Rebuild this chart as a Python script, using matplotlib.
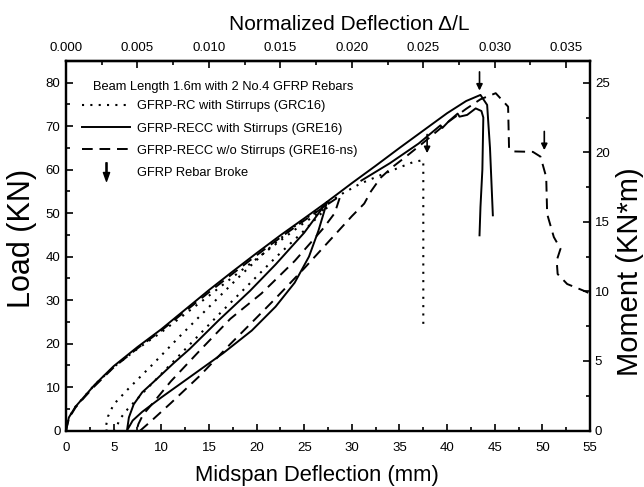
import matplotlib
matplotlib.use('Agg')
import matplotlib.pyplot as plt
from matplotlib.path import Path
from matplotlib.lines import Line2D
from matplotlib.ticker import MultipleLocator, FixedLocator

plt.rcParams['font.family'] = ['Liberation Sans', 'DejaVu Sans']

SPAN_MM = 1500.0      # clear span used for delta/L
MOMENT_ARM = 0.3125   # kN -> kN*m

# ── GRE16 (solid): envelope, unload/reload loop, envelope to failure ──────
gre_x = [0, 0.3, 1, 2, 3, 5, 7.5, 10, 12.5, 15, 17.5, 20, 22.5, 25, 27.4,
         26.5, 25.5, 24, 22, 19.5, 16.5, 13, 10, 8, 7, 6.4,
         6.6, 7.1, 8, 9.5, 11.3, 13, 16, 19.3, 22, 25, 27.4,
         30, 32.5, 35, 37.5, 40, 42, 43.5, 44.2, 44.5, 44.8]
gre_y = [0, 3, 5.5, 8, 10.5, 14.8, 19.2, 23.3, 27.8, 32.3, 36.6, 40.8, 44.9, 48.8, 52.6,
         46, 40, 34, 28.5, 23, 17.8, 12.3, 7.6, 4.3, 2.3, 0,
         3, 6, 8.8, 11.8, 15.5, 18.8, 25.3, 32.1, 38.2, 45.5, 52.6,
         56.9, 60.9, 65, 69, 73, 75.8, 77.2, 74.9, 65, 49.5]

# second solid trace near the peak
gre2_x = [31, 34, 37, 39.3, 39.5, 40.2, 41.1, 41.3, 42.1, 43.0, 43.6, 43.8, 43.7, 43.5, 43.4]
gre2_y = [57.5, 61.5, 66, 70.2, 69.6, 71.2, 72.9, 72.2, 72.6, 74.1, 73.5, 72, 60, 51.4, 44.9]

# ── GRE16-ns (dashed) ──────────────────────────────────────────────────────
ns_x = [0, 0.3, 1, 2, 3, 5, 7.5, 10, 12.5, 15, 17.5, 20, 22.5, 25, 27.5, 28.8,
        28.2, 27, 24, 20.5, 17.25, 14, 11, 9, 8.1, 7.6, 7.4,
        7.8, 9, 11, 14, 17.25, 19.3, 22, 25, 28, 30, 31.3, 32, 33, 34.2, 35.5,
        37.5, 40, 42, 43.5, 45.1, 46.4, 46.5, 47, 49, 49.8, 50.4, 50.5, 51.2,
        51.9, 51.5, 51.6, 52.6, 54.4, 55]
ns_y = [0, 2.8, 5.3, 7.8, 10.2, 14.5, 18.9, 23, 27.4, 31.8, 36.1, 40.3, 44.4, 48.3, 52.1, 54,
        50, 46.5, 39, 31.5, 25.7, 18.3, 11.3, 6, 3.7, 1.5, 0,
        0, 2.3, 6.3, 12.5, 19.9, 24.4, 30.4, 37.3, 44.5, 49.3, 52.2, 55, 58.1, 60.5, 62.7,
        66.2, 70.8, 74, 76.2, 77.6, 74.5, 64.9, 64.2, 64.1, 63, 58.3, 49.8, 44.5,
        41.8, 39.1, 36, 33.7, 32.1, 31.5]

# ── GRC16 (dotted) ─────────────────────────────────────────────────────────
grc_x = [0, 0.3, 1, 2, 3, 5, 7.5, 10, 12.5, 15, 17.5, 20, 22.5, 25, 27.5,
         25, 22, 19, 16, 13, 10, 8, 6.5, 5.6, 5.2, 4.1,
         4.4, 5, 6.5, 9, 12, 15, 18, 21, 24, 27.5,
         29, 30.9, 33.4, 35.1, 36.5, 37.5, 37.5]
grc_y = [0, 3, 5.5, 8, 10.5, 14.6, 18.8, 22.6, 26.8, 31, 35.3, 39.5, 43.7, 47.8, 51.5,
         46, 39.8, 33.2, 26.6, 19.8, 13, 8.5, 5, 2.5, 0, 0,
         3.2, 6, 9.5, 15, 21.8, 28.4, 35, 41.3, 47, 52.3,
         54.5, 56.8, 59.1, 60.6, 61.8, 62.2, 24.3]

# rebar rupture markers (x, tip load)
broke_x = [37.9, 43.4, 50.2]
broke_y = [63.8, 78.2, 64.5]

# top-axis tick values / labels
ratio_ticks = [0.000, 0.005, 0.010, 0.015, 0.020, 0.025, 0.030, 0.035]
ratio_minor = [0.0025, 0.0075, 0.0125, 0.0175, 0.0225, 0.0275, 0.0325]
ratio_labels = ['0.000', '0.005', '0.010', '0.015', '0.020', '0.025', '0.030', '0.035']

DOT = (0, (1, 3))
DASH = (0, (5.5, 3.5))

fig = plt.figure(figsize=(6.44, 4.87), dpi=100)
ax = fig.add_axes([0.1025, 0.116, 0.8137, 0.7587])

ax.plot(grc_x, grc_y, color='k', lw=1.5, linestyle=DOT)
ax.plot(gre_x, gre_y, color='k', lw=1.4)
ax.plot(gre2_x, gre2_y, color='k', lw=1.4)
ax.plot(ns_x, ns_y, color='k', lw=1.4, linestyle=DASH)

for bx, by in zip(broke_x, broke_y):
    ax.annotate('', xy=(bx, by), xytext=(bx, by + 4.3),
                arrowprops=dict(arrowstyle='-|>', color='k', lw=1.2,
                                mutation_scale=9, shrinkA=0, shrinkB=0))

ax.set_xlim(0, 55)
ax.set_ylim(0, 85)
ax.xaxis.set_major_locator(MultipleLocator(5))
ax.xaxis.set_minor_locator(MultipleLocator(2.5))
ax.yaxis.set_major_locator(MultipleLocator(10))
ax.yaxis.set_minor_locator(MultipleLocator(5))
ax.tick_params(which='both', direction='in', width=1.2, labelsize=9.5)
ax.tick_params(which='major', length=5)
ax.tick_params(which='minor', length=3)
ax.tick_params(axis='x', pad=8)
ax.tick_params(axis='y', pad=4)
for s in ax.spines.values():
    s.set_linewidth(1.6)

ax.set_xlabel('Midspan Deflection (mm)', fontsize=15.8)
ax.xaxis.set_label_coords(0.478, -0.092)
ax.set_ylabel('Load (KN)', fontsize=22)
ax.yaxis.set_label_coords(-0.055, 0.52)

# right axis: moment
ax2 = ax.twinx()
ax2.set_ylim(0, 85 * MOMENT_ARM)
ax2.yaxis.set_major_locator(MultipleLocator(5))
ax2.yaxis.set_minor_locator(MultipleLocator(2.5))
ax2.tick_params(which='both', direction='in', width=1.2, labelsize=9.5, pad=3.5)
ax2.tick_params(which='major', length=5)
ax2.tick_params(which='minor', length=3)
ax2.set_ylabel('Moment (KN*m)', fontsize=21)
ax2.yaxis.set_label_coords(1.049, 0.43)
for s in ax2.spines.values():
    s.set_linewidth(1.6)

# top axis: normalized deflection
top = ax.secondary_xaxis('top', functions=(lambda d: d / SPAN_MM, lambda r: r * SPAN_MM))
top.set_xticks(ratio_ticks, ratio_labels)
top.xaxis.set_minor_locator(FixedLocator(ratio_minor))
top.tick_params(which='both', direction='in', width=1.2, labelsize=9.5, pad=5)
top.tick_params(which='major', length=5)
top.tick_params(which='minor', length=3)
top.set_xlabel('Normalized Deflection \u0394/L', fontsize=15, labelpad=9)
top.xaxis.label.set_x(0.541)
top.spines['top'].set_linewidth(1.6)

# legend
arrow_marker = Path([(-0.06, 1.0), (0.06, 1.0), (0.06, 0.0), (0.32, 0.0),
                     (0.0, -0.9), (-0.32, 0.0), (-0.06, 0.0), (-0.06, 1.0)],
                    [Path.MOVETO] + [Path.LINETO] * 6 + [Path.CLOSEPOLY])
handles = [
    Line2D([], [], color='k', lw=1.5, linestyle=DOT),
    Line2D([], [], color='k', lw=1.4),
    Line2D([], [], color='k', lw=1.4, linestyle=DASH),
    Line2D([], [], color='k', ls='none', marker=arrow_marker, markersize=14),
]
labels = ['GFRP-RC with Stirrups (GRC16)',
          'GFRP-RECC with Stirrups (GRE16)',
          'GFRP-RECC w/o Stirrups (GRE16-ns)',
          'GFRP Rebar Broke']
ax.text(0.051, 0.929, 'Beam Length 1.6m with 2 No.4 GFRP Rebars',
        transform=ax.transAxes, fontsize=9.3, va='center', ha='left')
ax.legend(handles, labels, loc='upper left', bbox_to_anchor=(0.03, 0.894),
          frameon=False, fontsize=9.3, handlelength=3.7, handletextpad=0.55,
          labelspacing=0.8, borderpad=0, borderaxespad=0)

fig.savefig('out.png', dpi=100)
